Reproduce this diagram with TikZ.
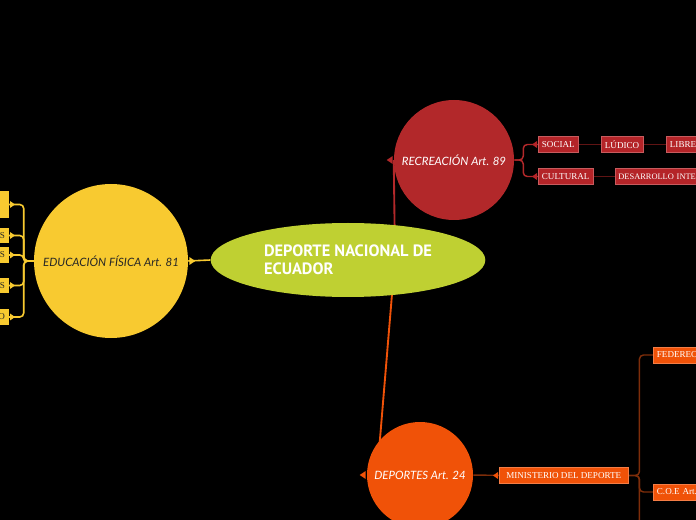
\documentclass[tikz,border=0pt]{standalone}
\usepackage{fontspec}
\setmainfont{Liberation Serif}
\newfontfamily\handfont{Lato}
\newfontfamily\titlefont{PT Sans}
\usepackage{tikz}
\usetikzlibrary{calc}
\usetikzlibrary{shapes.geometric}
\usetikzlibrary{backgrounds}

\definecolor{limeg}{RGB}{191,208,50}
\definecolor{yel}{RGB}{248,202,48}
\definecolor{recred}{RGB}{178,40,42}
\definecolor{recbox}{RGB}{180,36,40}
\definecolor{recdark}{RGB}{96,20,20}
\definecolor{deporange}{RGB}{240,82,8}
\definecolor{depdark}{RGB}{125,45,10}

\begin{document}
\begin{tikzpicture}[x=0.75pt,y=-0.75pt,
  bub/.style={circle,inner sep=0pt,font=\handfont\itshape\fontsize{8.6}{10}\selectfont},
  leaf/.style={rectangle,inner xsep=2.8pt,inner ysep=0pt,minimum height=11.8pt,
    font=\fontsize{6.8}{7.5}\selectfont},
  edleaf/.style={leaf,fill=yel,text=black!85,anchor=east,text width=40pt,align=right},
  recleaf/.style={leaf,fill=recbox,draw=recbox!75!white,line width=0.3pt,text=white,anchor=west},
  depleaf/.style={leaf,fill=deporange,draw=deporange!75!white,line width=0.3pt,text=white,anchor=west},
  yelline/.style={yel,line width=1.2pt},
  recline/.style={recdark,line width=1.1pt},
  depline/.style={depdark,line width=1.1pt}]

   \useasboundingbox (0,0) rectangle (696,520);

   \node[ellipse,fill=limeg,inner sep=0pt,minimum width=206pt,minimum height=55.5pt,
     align=left,text=white,font=\titlefont\bfseries\fontsize{12.3}{13.5}\selectfont]
     (deporte) at (348,260) {DEPORTE NACIONAL DE\\ECUADOR};

   \node[bub,fill=yel,text=black!85,minimum size=115.5pt] (edu) at (111,261) {EDUCACIÓN FÍSICA Art. 81};
   \node[bub,fill=recred,text=white,minimum size=90pt] (rec) at (454,160) {RECREACIÓN Art. 89};
   \node[bub,fill=deporange,text=white,minimum size=79.5pt] (dep) at (420,475) {DEPORTES Art. 24};

   % educacion fisica
   \node[edleaf,minimum height=20pt] (ed1) at (9,204.5) {};
   \node[edleaf] (ed2) at (9,235.5) {S};
   \node[edleaf] (ed3) at (9,255) {S};
   \node[edleaf] (ed4) at (9,285.5) {S};
   \node[edleaf] (ed5) at (9,317) {O};

   % recreacion
   \node[recleaf] (soc) at (538,144.5) {SOCIAL};
   \node[recleaf] (lud) at (601,144.5) {LÚDICO};
   \node[recleaf,text width=40pt,align=left] (lib) at (666,144.5) {LIBRE};
   \node[recleaf] (cul) at (538,176.5) {CULTURAL};
   \node[recleaf,text width=80pt,align=left,inner xsep=2.4pt,font=\fontsize{6.3}{7.5}\selectfont]
     (des) at (615,176.5) {DESARROLLO INTE};

   % deportes
   \node[depleaf,minimum width=96.8pt] (min) at (499,475.5) {MINISTERIO DEL DEPORTE};
   \node[depleaf,text width=40pt,align=left] (fed) at (653,355) {FEDEREC};
   \node[depleaf,text width=40pt,align=left] (coe) at (653,492) {C.O.E Art.};

   \begin{scope}[on background layer]
     \fill[black] (0,0) rectangle (696,520);
     \coordinate (hub) at (395,258);
     \coordinate (depin) at (377,475);
     \coordinate (depmore) at (700,545);

     \draw[yelline] (deporte.west) -- (edu.east);
     \draw[recred,line width=1.4pt] (hub) -- (rec.west);
     \draw[deporange,line width=1.4pt] (hub) -- (depin);

     \foreach \k in {ed1,ed2,ed3,ed4,ed5}
       \draw[yelline,rounded corners=3pt] (edu.west) -- ++(-10,0) |- (\k.east);

     \foreach \k in {soc,cul}
       \draw[recred,line width=1.1pt,rounded corners=3pt] (rec.east) -- ++(9,0) |- (\k.west);
     \draw[recline] (soc) -- (lud);
     \draw[recline] (lud) -- (lib);
     \draw[recline] (cul) -- (des);

     \draw[depline] (dep) -- (min);
     \foreach \k in {fed,coe,depmore}
       \draw[depline,rounded corners=3pt] (min.east) -- ++(11,0) |- (\k.west);
   \end{scope}

   % markers
   \fill[yel] ($(edu.east)+(1,-4)$) -- ++(0,8) -- ++(6,-4) -- cycle;
   \fill[recred] ($(rec.west)+(-1,-4)$) -- ++(0,8) -- ++(-6,-4) -- cycle;
   \fill[deporange] ($(dep.west)+(-1,-4)$) -- ++(0,8) -- ++(-6,-4) -- cycle;
   \foreach \k in {ed1,ed2,ed3,ed4,ed5}
     \fill[yel] ($(\k.east)+(1,-3.5)$) -- ++(0,7) -- ++(5,-3.5) -- cycle;
   \foreach \k in {soc,cul}
     \fill[recbox] ($(\k.west)+(-1,-3.5)$) -- ++(0,7) -- ++(-5,-3.5) -- cycle;
   \fill[deporange] ($(min.west)+(-1,-3.5)$) -- ++(0,7) -- ++(-5,-3.5) -- cycle;
  \end{tikzpicture}
\end{document}
